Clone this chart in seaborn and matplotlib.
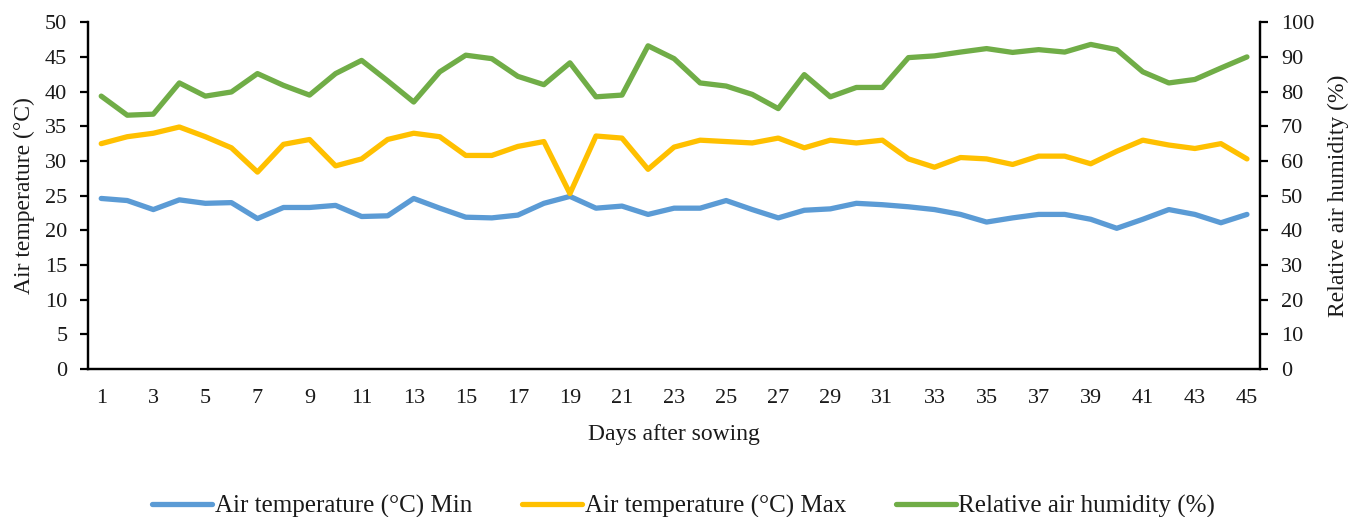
import numpy as np
import pandas as pd
import matplotlib
matplotlib.use("Agg")
import matplotlib.pyplot as plt
import seaborn as sns

# -------------------------
#  Data
# -------------------------
days = list(range(1, 46))

temp_min = [24.6, 24.3, 23.0, 24.4, 23.9, 24.0, 21.7, 23.3, 23.3, 23.6,
            22.0, 22.1, 24.6, 23.2, 21.9, 21.8, 22.2, 23.9, 24.9, 23.2,
            23.5, 22.3, 23.2, 23.2, 24.3, 23.0, 21.8, 22.9, 23.1, 23.9,
            23.7, 23.4, 23.0, 22.3, 21.2, 21.8, 22.3, 22.3, 21.6, 20.3,
            21.6, 23.0, 22.3, 21.1, 22.3]

temp_max = [32.5, 33.5, 34.0, 34.9, 33.5, 31.9, 28.4, 32.4, 33.1, 29.3,
            30.3, 33.1, 34.0, 33.5, 30.8, 30.8, 32.1, 32.8, 25.3, 33.6,
            33.3, 28.8, 32.0, 33.0, 32.8, 32.6, 33.3, 31.9, 33.0, 32.6,
            33.0, 30.3, 29.1, 30.5, 30.3, 29.5, 30.7, 30.7, 29.6, 31.4,
            33.0, 32.3, 31.8, 32.5, 30.3]

humidity = [78.7, 73.2, 73.5, 82.5, 78.7, 79.9, 85.2, 81.8, 79.0, 85.2,
            89.0, 83.1, 77.0, 85.7, 90.5, 89.5, 84.4, 82.0, 88.3, 78.5,
            79.0, 93.2, 89.5, 82.5, 81.6, 79.2, 75.1, 84.9, 78.5, 81.2,
            81.2, 89.8, 90.3, 91.4, 92.4, 91.3, 92.1, 91.4, 93.6, 92.1,
            85.7, 82.5, 83.5, 86.8, 90.0]

labels = ["Air temperature (\u00b0C) Min",
          "Air temperature (\u00b0C) Max",
          "Relative air humidity (%)"]
colors = ["#5B9BD5", "#FFC000", "#70AD47"]

df = pd.DataFrame({"day": days, "tmin": temp_min, "tmax": temp_max, "rh": humidity})

# -------------------------
#  Style
# -------------------------
sns.set_style("white")
plt.rcParams["font.family"] = ["Liberation Serif", "DejaVu Serif"]
plt.rcParams["font.size"] = 16
plt.rcParams["text.color"] = "#1a1a1a"
plt.rcParams["axes.labelcolor"] = "#1a1a1a"

fig = plt.figure(figsize=(13.57, 5.17), dpi=100)
ax = fig.add_axes([0.065, 0.286, 0.8635, 0.671])
ax2 = ax.twinx()

lw = 3.8
sns.lineplot(data=df, x="day", y="tmin", ax=ax, color=colors[0], lw=lw, label=labels[0], legend=False)
sns.lineplot(data=df, x="day", y="tmax", ax=ax, color=colors[1], lw=lw, label=labels[1], legend=False)
sns.lineplot(data=df, x="day", y="rh", ax=ax2, color=colors[2], lw=lw, label=labels[2], legend=False)

# -------------------------
#  Axes
# -------------------------
ax.set_xlim(0.5, 45.5)
ax.set_ylim(0, 50)
ax2.set_ylim(0, 100)
ax.set_xticks(days[::2])
ax.set_yticks(range(0, 51, 5))
ax2.set_yticks(range(0, 101, 10))

for a in (ax, ax2):
    a.spines["top"].set_visible(False)
    for s in ("left", "right", "bottom"):
        a.spines[s].set_color("black")
        a.spines[s].set_linewidth(1.6)
    a.tick_params(axis="y", length=6, width=1.6, direction="out", labelsize=16,
                  color="black", labelcolor="#1a1a1a", pad=9)
    a.grid(False)
ax.tick_params(axis="x", length=0, labelsize=16, labelcolor="#1a1a1a", pad=14)

ax.set_xlabel("Days after sowing", fontsize=17, labelpad=12)
ax.set_ylabel("Air temperature (\u00b0C)", fontsize=17, labelpad=7)
ax2.set_ylabel("Relative air humidity (%)", fontsize=17, labelpad=10)

# -------------------------
#  Legend
# -------------------------
h1, l1 = ax.get_legend_handles_labels()
h2, l2 = ax2.get_legend_handles_labels()
fig.legend(h1 + h2, l1 + l2, loc="center", bbox_to_anchor=(0.504, 0.021),
           ncol=3, frameon=False, fontsize=18, handlelength=2.4,
           handletextpad=0.1, columnspacing=2.0)

fig.savefig("out.png", dpi=100)
